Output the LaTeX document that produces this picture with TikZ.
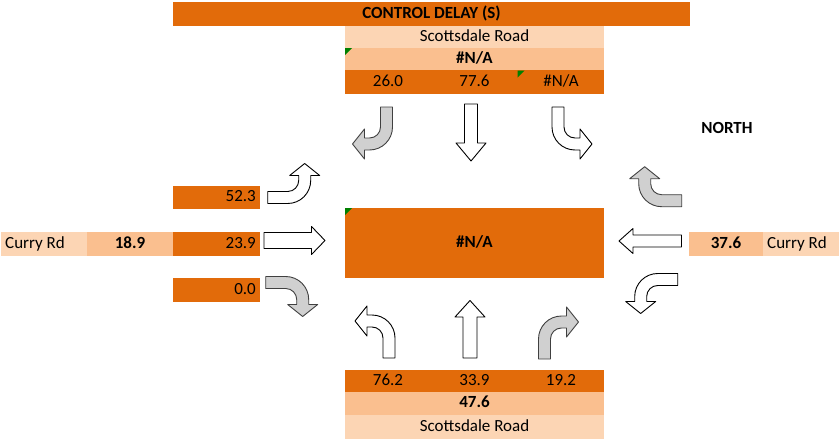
\documentclass[tikz,border=0pt]{standalone}
\usepackage{fontspec}
\setmainfont{Carlito}
\definecolor{delayorange}{HTML}{E26B0A}
\definecolor{delaymid}{HTML}{FABF8F}
\definecolor{delaylight}{HTML}{FCD5B4}
\definecolor{arrowgray}{HTML}{D0D0D0}
\tikzset{
    cell/.style={inner sep=0pt, text height=0.88em, text depth=0pt, font=\fontsize{17}{20}\selectfont},
    boldcell/.style={cell, font=\fontsize{17}{20}\selectfont\bfseries},
    whitearrow/.style={draw=black, fill=white, line width=0.9pt, line join=round},
    grayarrow/.style={draw=black!75, fill=arrowgray, line width=0.9pt, line join=round},
    flag/.style={fill=green!50!black}
}
\newcommand{\bentarrow}[2]{\draw[#1, cm={#2}] (-6,0) -- (-6,20) .. controls (-6,32.7) and (4.3,43) .. (17,43) -- (22,43) -- (22,52) -- (34,37) -- (22,22) -- (22,31) -- (17,31) .. controls (10.9,31) and (6,26.1) .. (6,20) -- (6,0) -- cycle;}
\begin{document}
\begin{tikzpicture}[x=1pt, y=1pt]
    \useasboundingbox (0,0) rectangle (839,-439);
    \fill[delayorange] (173,-2) rectangle (690,-25.7);
    \fill[delaylight] (345,-25.5) rectangle (604,-48);
    \fill[delaymid] (345,-48) rectangle (604,-70.3);
    \fill[delayorange] (345,-70.3) rectangle (604,-94.3);
    \fill[delayorange] (345,-208) rectangle (604,-278);
    \fill[delayorange] (345,-370) rectangle (604,-391.7);
    \fill[delaymid] (345,-391.7) rectangle (604,-415);
    \fill[delaylight] (345,-415) rectangle (604,-439);
    \fill[delayorange] (173,-186) rectangle (260,-209);
    \fill[delaylight] (1,-232) rectangle (87,-256);
    \fill[delaymid] (87,-232) rectangle (173,-256);
    \fill[delayorange] (173,-232) rectangle (260,-256);
    \fill[delayorange] (173,-278) rectangle (260,-302);
    \fill[delaymid] (689,-232) rectangle (763,-256);
    \fill[delaylight] (763,-232) rectangle (839,-256);
    \fill[flag] (345,-48) -- (352,-48) -- (345,-55) -- cycle;
    \fill[flag] (517.7,-70.5) -- (524.7,-70.5) -- (517.7,-77.5) -- cycle;
    \fill[flag] (345,-208) -- (352,-208) -- (345,-215) -- cycle;

    \node[boldcell] (title) at (431.5,-13.9) {CONTROL DELAY (S)};
    \node[cell] (sdnorth) at (474.5,-36.7) {Scottsdale Road};
    \node[boldcell] (sbtotal) at (474.5,-59.2) {\#N/A};
    \node[cell] (sbright) at (388,-82.3) {26.0};
    \node[cell] (sbthru) at (474.5,-82.3) {77.6};
    \node[cell] (sbleft) at (561,-82.3) {\#N/A};
    \node[boldcell] (north) at (727,-129) {NORTH};
    \node[boldcell] (overall) at (474.5,-243) {\#N/A};
    \node[cell, anchor=east] (ebleft) at (256,-197.5) {52.3};
    \node[cell, anchor=west] (currywest) at (5,-244) {Curry Rd};
    \node[boldcell] (ebtotal) at (130,-244) {18.9};
    \node[cell, anchor=east] (ebthru) at (256,-244) {23.9};
    \node[cell, anchor=east] (ebright) at (256,-290) {0.0};
    \node[boldcell] (wbtotal) at (726,-244) {37.6};
    \node[cell, anchor=west] (curryeast) at (767,-244) {Curry Rd};
    \node[cell] (nbleft) at (388,-380.9) {76.2};
    \node[cell] (nbthru) at (474.5,-380.9) {33.9};
    \node[cell] (nbright) at (561,-380.9) {19.2};
    \node[boldcell] (nbtotal) at (474.5,-403.4) {47.6};
    \node[cell] (sdsouth) at (474.5,-427) {Scottsdale Road};

    \bentarrow{grayarrow}{-1,0,0,-1,(386.5,-107)}
    \bentarrow{whitearrow}{1,0,0,-1,(558,-107)}
    \bentarrow{whitearrow}{-1,0,0,1,(389,-358)}
    \bentarrow{grayarrow}{1,0,0,1,(544.5,-359)}
    \bentarrow{whitearrow}{0,1,1,0,(267.7,-197.5)}
    \bentarrow{grayarrow}{0,-1,1,0,(265.7,-282.5)}
    \bentarrow{grayarrow}{0,1,-1,0,(681.7,-200.7)}
    \bentarrow{whitearrow}{0,-1,-1,0,(677.7,-279.5)}
    \draw[whitearrow] (464.5,-104) -- (464.5,-143) -- (456,-143) -- (471,-161) -- (486,-143) -- (477.5,-143) -- (477.5,-104) -- cycle;
    \draw[whitearrow] (463,-358) -- (463,-317) -- (455,-317) -- (470,-300.5) -- (485,-317) -- (477,-317) -- (477,-358) -- cycle;
    \draw[whitearrow] (264,-232.5) -- (311.5,-232.5) -- (311.5,-226.5) -- (325,-240.5) -- (311.5,-254.5) -- (311.5,-248.5) -- (264,-248.5) -- cycle;
    \draw[whitearrow] (681.5,-235) -- (633,-235) -- (633,-228.5) -- (619,-241) -- (633,-253.5) -- (633,-247) -- (681.5,-247) -- cycle;
\end{tikzpicture}
\end{document}
